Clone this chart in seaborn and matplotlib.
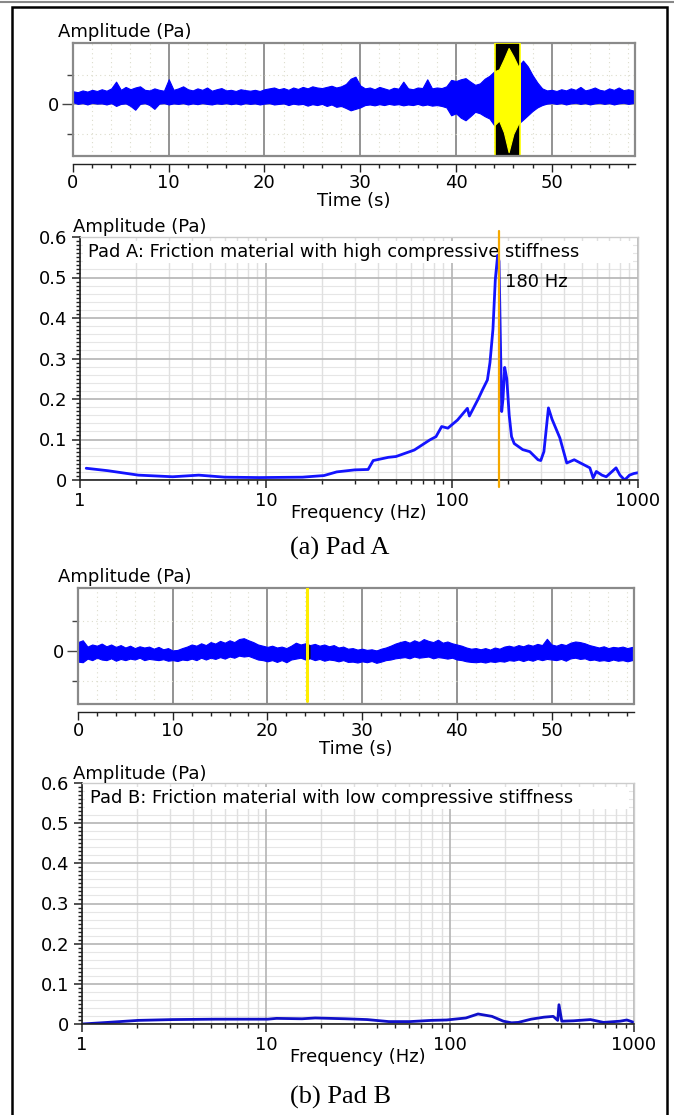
import numpy as np
import matplotlib
matplotlib.use('Agg')
import matplotlib.pyplot as plt
from matplotlib.patches import Rectangle
from matplotlib.lines import Line2D
from matplotlib.ticker import MultipleLocator, FixedLocator, FuncFormatter
import seaborn as sns

# ---- data ----
# time signals: envelope (upper / lower) every 0.5 s, 0 .. 58.5 s
time_step = 0.5
pad_a_upper = [0.45, 0.42, 0.48, 0.44, 0.50, 0.46, 0.52, 0.47, 0.55, 0.78,
               0.50, 0.60, 0.52, 0.58, 0.62, 0.50, 0.48, 0.55, 0.50, 0.47,
               0.86, 0.50, 0.55, 0.62, 0.52, 0.48, 0.55, 0.50, 0.58, 0.47,
               0.52, 0.56, 0.48, 0.50, 0.46, 0.52, 0.49, 0.47, 0.50, 0.46,
               0.52, 0.55, 0.58, 0.52, 0.56, 0.50, 0.58, 0.53, 0.60, 0.55,
               0.62, 0.58, 0.56, 0.60, 0.64, 0.58, 0.62, 0.70, 0.88, 0.95,
               0.65, 0.55, 0.58, 0.52, 0.60, 0.55, 0.50, 0.57, 0.54, 0.78,
               0.55, 0.52, 0.58, 0.56, 0.86, 0.55, 0.58, 0.56, 0.62, 0.84,
               0.80, 0.86, 0.90, 0.78, 0.67, 0.72, 0.88, 0.98, 1.13, 1.20,
               1.55, 1.93, 1.64, 1.30, 1.50, 1.30, 1.00, 0.75, 0.55, 0.48,
               0.50, 0.46, 0.52, 0.48, 0.55, 0.50, 0.60, 0.48, 0.52, 0.58,
               0.50, 0.47, 0.55, 0.50, 0.58, 0.49, 0.52, 0.48]
pad_a_lower = [0.08, 0.02, 0.05, 0.00, 0.06, 0.03, 0.04, 0.00, 0.05, -0.05,
               0.02, 0.04, -0.05, -0.18, 0.02, 0.05, -0.02, -0.15, 0.03, 0.05,
               0.00, 0.04, 0.02, 0.05, 0.00, 0.04, 0.01, 0.05, 0.02, 0.00,
               0.04, 0.02, 0.05, 0.01, 0.04, 0.00, 0.05, 0.02, 0.04, 0.00,
               0.03, 0.05, 0.00, 0.02, 0.04, -0.02, 0.03, 0.00, 0.02, -0.04,
               0.01, -0.02, 0.02, -0.05, 0.00, -0.08, -0.05, -0.12, -0.20, -0.15,
               -0.10, -0.02, 0.00, -0.03, 0.01, -0.02, 0.02, -0.01, 0.01, -0.03,
               0.00, -0.02, 0.02, -0.03, 0.00, -0.04, -0.02, -0.05, -0.10, -0.37,
               -0.30, -0.45, -0.54, -0.40, -0.25, -0.30, -0.40, -0.48, -0.71, -0.55,
               -0.95, -1.63, -1.00, -0.66, -0.52, -0.37, -0.22, -0.10, -0.02, 0.03,
               0.05, 0.02, 0.05, 0.00, 0.04, 0.06, 0.02, 0.05, 0.00, 0.04,
               0.06, 0.02, 0.05, 0.00, 0.04, 0.06, 0.02, 0.05]
pad_b_upper = [0.30, 0.36, 0.15, 0.22, 0.18, 0.25, 0.16, 0.22, 0.14, 0.20,
               0.12, 0.18, 0.10, 0.16, 0.12, 0.15, 0.08, 0.14, 0.06, 0.10,
               0.02, 0.04, 0.10, 0.15, 0.22, 0.18, 0.26, 0.20, 0.30, 0.25,
               0.34, 0.28, 0.36, 0.30, 0.40, 0.43, 0.36, 0.30, 0.22, 0.18,
               0.14, 0.18, 0.12, 0.15, 0.10, 0.18, 0.28, 0.22, 0.26, 0.20,
               0.24, 0.18, 0.22, 0.16, 0.20, 0.12, 0.15, 0.08, 0.10, 0.05,
               0.08, 0.04, 0.06, 0.02, 0.08, 0.12, 0.18, 0.25, 0.30, 0.34,
               0.28, 0.36, 0.30, 0.40, 0.34, 0.30, 0.38, 0.28, 0.32, 0.26,
               0.22, 0.18, 0.12, 0.08, 0.10, 0.06, 0.10, 0.05, 0.12, 0.08,
               0.15, 0.18, 0.14, 0.20, 0.16, 0.22, 0.18, 0.24, 0.20, 0.41,
               0.22, 0.18, 0.24, 0.20, 0.28, 0.32, 0.30, 0.26, 0.20, 0.16,
               0.12, 0.16, 0.10, 0.14, 0.12, 0.15, 0.10, 0.14]
pad_b_lower = [-0.35, -0.37, -0.25, -0.30, -0.22, -0.28, -0.30, -0.24, -0.32, -0.26,
               -0.30, -0.25, -0.28, -0.22, -0.30, -0.26, -0.28, -0.30, -0.27, -0.32,
               -0.30, -0.33, -0.28, -0.30, -0.25, -0.30, -0.22, -0.28, -0.22, -0.26,
               -0.20, -0.25, -0.18, -0.22, -0.15, -0.18, -0.16, -0.22, -0.28, -0.30,
               -0.34, -0.30, -0.36, -0.30, -0.37, -0.28, -0.25, -0.22, -0.28, -0.24,
               -0.30, -0.26, -0.32, -0.28, -0.30, -0.34, -0.30, -0.36, -0.35, -0.38,
               -0.34, -0.37, -0.33, -0.39, -0.35, -0.30, -0.28, -0.24, -0.22, -0.20,
               -0.24, -0.18, -0.22, -0.20, -0.18, -0.24, -0.20, -0.22, -0.25, -0.22,
               -0.28, -0.30, -0.34, -0.36, -0.37, -0.35, -0.38, -0.34, -0.36, -0.33,
               -0.35, -0.30, -0.32, -0.28, -0.33, -0.28, -0.32, -0.26, -0.30, -0.26,
               -0.28, -0.30, -0.26, -0.32, -0.24, -0.22, -0.26, -0.24, -0.30, -0.28,
               -0.32, -0.30, -0.33, -0.28, -0.32, -0.30, -0.34, -0.30]
squeal_window = (44.1, 46.7)     # highlighted segment, Pad A
marker_time_b = 24.2             # cursor, Pad B

# spectra
freq_a = [1.08, 1.41, 2.06, 3.15, 4.35, 6.0, 9.2, 15.7, 20.5, 24, 30, 35.4, 37.7,
          45.5, 50, 62.7, 76, 82, 88, 95, 107, 121, 124, 139, 146, 155, 160, 166,
          171, 176, 179, 182, 185, 188, 192, 197, 203, 209, 216, 240, 262, 290,
          300, 312, 330, 345, 380, 414, 454, 500, 551, 574, 597, 640, 675, 762,
          800, 848, 900, 950, 1000]
amp_a = [0.029, 0.023, 0.012, 0.008, 0.012, 0.007, 0.006, 0.007, 0.011, 0.020,
         0.025, 0.026, 0.048, 0.056, 0.058, 0.074, 0.099, 0.107, 0.132, 0.128,
         0.148, 0.177, 0.158, 0.202, 0.223, 0.247, 0.290, 0.372, 0.496, 0.555,
         0.540, 0.350, 0.169, 0.200, 0.278, 0.250, 0.160, 0.107, 0.090, 0.075,
         0.070, 0.050, 0.048, 0.070, 0.178, 0.150, 0.104, 0.042, 0.050, 0.040,
         0.030, 0.005, 0.021, 0.012, 0.008, 0.030, 0.012, 0.000, 0.012, 0.016,
         0.018]
freq_b = [1.0, 1.38, 2.02, 3.1, 5.3, 10.2, 11.4, 15.7, 18.5, 27, 35.5, 46.5,
          60.6, 79, 96, 122, 142, 169, 195, 216, 235, 276, 324, 364, 385, 391,
          405, 469, 580, 683, 840, 914, 1000]
amp_b = [0.000, 0.004, 0.009, 0.011, 0.012, 0.012, 0.014, 0.013, 0.015, 0.013,
         0.011, 0.006, 0.006, 0.009, 0.010, 0.015, 0.025, 0.019, 0.007, 0.003,
         0.004, 0.012, 0.017, 0.019, 0.009, 0.048, 0.007, 0.008, 0.011, 0.004,
         0.007, 0.010, 0.004]
peak_freq_a = 180

# ---- style ----
sns.set_theme(style='white')
plt.rcParams['font.family'] = ['DejaVu Sans']
plt.rcParams['axes.linewidth'] = 1.2
for key in ('text.color', 'axes.labelcolor', 'xtick.color', 'ytick.color'):
    plt.rcParams[key] = 'black'

BLUE = '#0000ff'
GRAY = '#8a8a8a'
FS = 13
W, H = 674, 1115

fig = plt.figure(figsize=(6.74, 11.15), dpi=100)
fig.patch.set_facecolor('white')


def px_axes(x0, x1, y0, y1):
    return fig.add_axes([x0 / W, 1 - y1 / H, (x1 - x0) / W, (y1 - y0) / H])


def px_text(x, y, s, **kw):
    fig.text(x / W, 1 - y / H, s, **kw)


def time_panel(ax, upper, lower):
    t = np.arange(len(upper)) * time_step
    ax.set_xlim(0, 58.7)
    ax.set_ylim(-1.76, 2.1)
    for v in range(2, 59, 2):
        if v % 10:
            ax.axvline(v, color='#dcdccc', lw=0.8, ls=(0, (1, 3)), zorder=0)
    for v in range(10, 59, 10):
        ax.axvline(v, color=GRAY, lw=1.3, zorder=0)
    for v in (-1, 1):
        ax.axhline(v, color='#dcdccc', lw=0.8, ls=(0, (1, 3)), zorder=0)
    ax.axhline(0, color='#a5a5a5', lw=1.3, zorder=0)
    ax.fill_between(t, lower, upper, color=BLUE, lw=0.8,
                    edgecolor=BLUE, zorder=2)
    ax.set_xticks(range(0, 59, 10))
    ax.xaxis.set_minor_locator(MultipleLocator(2))
    ax.set_yticks([0])
    ax.yaxis.set_minor_locator(FixedLocator([-1, 1]))
    for s in ax.spines.values():
        s.set_color(GRAY)
        s.set_linewidth(1.6)
    ax.spines['bottom'].set_position(('outward', 6))
    ax.spines['bottom'].set_color('#222222')
    ax.spines['bottom'].set_linewidth(1.0)
    ax.plot([0, 1], [0, 0], transform=ax.transAxes, color=GRAY, lw=1.6,
            clip_on=False, zorder=5)
    ax.tick_params(axis='x', which='major', direction='out', length=6,
                   width=1, color='#222222', labelsize=FS, pad=1, bottom=True)
    ax.tick_params(axis='x', which='minor', direction='out', length=3,
                   width=1, color='#222222', bottom=True)
    ax.tick_params(axis='y', which='major', direction='out', length=8,
                   width=1, color='#444444', labelsize=FS, pad=2, left=True)
    ax.tick_params(axis='y', which='minor', direction='out', length=4,
                   width=1, color='#444444', left=True)
    ax.set_xlabel('Time (s)', fontsize=FS, labelpad=0)
    return t


def spectrum_panel(ax, freq, amp, color, label):
    ax.set_xscale('log')
    ax.set_xlim(1, 1000)
    ax.set_ylim(0, 0.6)
    ax.set_axisbelow(True)
    ax.grid(which='major', axis='x', color='#b4b4b4', lw=1.2, ls='-')
    ax.grid(which='minor', axis='x', color='#e0e0e0', lw=1.0, ls='-')
    ax.grid(which='major', axis='y', color='#b4b4b4', lw=1.2, ls='-')
    for v in np.arange(0.02, 0.6, 0.02):
        if round(v * 100) % 10:
            ax.axhline(v, color='#e6e6e6', lw=0.8, zorder=0)
    ax.add_patch(Rectangle((0.006, 0.893), 0.985, 0.09, transform=ax.transAxes,
                           facecolor='white', edgecolor='none', zorder=1.5))
    ax.text(0.015, 0.938, label, transform=ax.transAxes, fontsize=FS - 0.2,
            ha='left', va='center', zorder=1.6)
    sns.lineplot(x=freq, y=amp, ax=ax, color=color, linewidth=2.0, zorder=2.5)
    ax.set_xticks([1, 10, 100, 1000])
    ax.set_xticklabels(['1', '10', '100', '1000'])
    ax.set_yticks(np.arange(0, 0.61, 0.1))
    ax.yaxis.set_major_formatter(FuncFormatter(lambda v, p: '0' if abs(v) < 1e-9 else f'{v:.1f}'))
    ax.yaxis.set_minor_locator(MultipleLocator(0.01))
    for side in ('top', 'right'):
        ax.spines[side].set_color('#cccccc')
        ax.spines[side].set_linewidth(1.0)
    for side in ('left', 'bottom'):
        ax.spines[side].set_color('#222222')
        ax.spines[side].set_linewidth(1.2)
    ax.tick_params(axis='both', which='major', direction='out', length=6,
                   width=1.1, color='#222222', labelsize=FS, pad=3,
                   left=True, bottom=True)
    ax.tick_params(axis='both', which='minor', direction='out', length=3,
                   width=1, color='#222222', left=True, bottom=True)
    ax.set_xlabel('Frequency (Hz)', fontsize=FS, labelpad=-5)
    ax.set_ylabel('')


# ---- (a) Pad A ----
ax1 = px_axes(73, 635, 43, 156)
time_panel(ax1, pad_a_upper, pad_a_lower)
t_a = np.arange(len(pad_a_upper)) * time_step
span = ax1.axvspan(*squeal_window, facecolor='black', edgecolor='#ffff00',
                   lw=1.2, zorder=3)
yel = ax1.fill_between(t_a, pad_a_lower, pad_a_upper,
                       color='#ffff00', lw=0.8, edgecolor='#ffff00', zorder=4)
yel.set_clip_path(span)
px_text(58, 32, 'Amplitude (Pa)', fontsize=FS, ha='left', va='center')

ax2 = px_axes(80, 638, 237, 480)
spectrum_panel(ax2, freq_a, amp_a, '#1414ff',
               'Pad A: Friction material with high compressive stiffness')
ax2.plot([peak_freq_a, peak_freq_a], [-0.017, 0.615], color='#f5a800', lw=1.6,
         clip_on=False, zorder=4)
ax2.text(193, 0.49, '180 Hz', fontsize=FS, ha='left', va='center', zorder=5)
px_text(73, 227, 'Amplitude (Pa)', fontsize=FS, ha='left', va='center')

# ---- (b) Pad B ----
ax3 = px_axes(78, 634, 588, 704)
time_panel(ax3, pad_b_upper, pad_b_lower)
t_b = np.arange(len(pad_b_upper)) * time_step
near = (t_b >= 23.9) & (t_b <= 24.5)
ax3.fill_between(t_b, pad_b_lower, pad_b_upper, where=near,
                 color='#111111', lw=0, zorder=3)
ax3.axvline(marker_time_b, ymin=0.03, ymax=1.0, color='#ffee00', lw=2.2, zorder=4)
px_text(58, 577, 'Amplitude (Pa)', fontsize=FS, ha='left', va='center')

ax4 = px_axes(82, 634, 783, 1024)
spectrum_panel(ax4, freq_b, amp_b, '#1010c8',
               'Pad B: Friction material with low compressive stiffness')
px_text(73, 774, 'Amplitude (Pa)', fontsize=FS, ha='left', va='center')

# captions
px_text(340, 548, '(a) Pad A', family='Liberation Serif', fontsize=19,
        ha='center', va='center')
px_text(340, 1097, '(b) Pad B', family='Liberation Serif', fontsize=19,
        ha='center', va='center')

# outer frame
fig.add_artist(Rectangle((12 / W, -0.01), (667 - 12) / W, 1 - 7 / H + 0.01,
                         transform=fig.transFigure, fill=False,
                         edgecolor='black', lw=1.8))
fig.add_artist(Line2D([0, 1], [1 - 1.5 / H] * 2, transform=fig.transFigure,
                      color='#888888', lw=1.5))

fig.savefig('out.png', dpi=100)
